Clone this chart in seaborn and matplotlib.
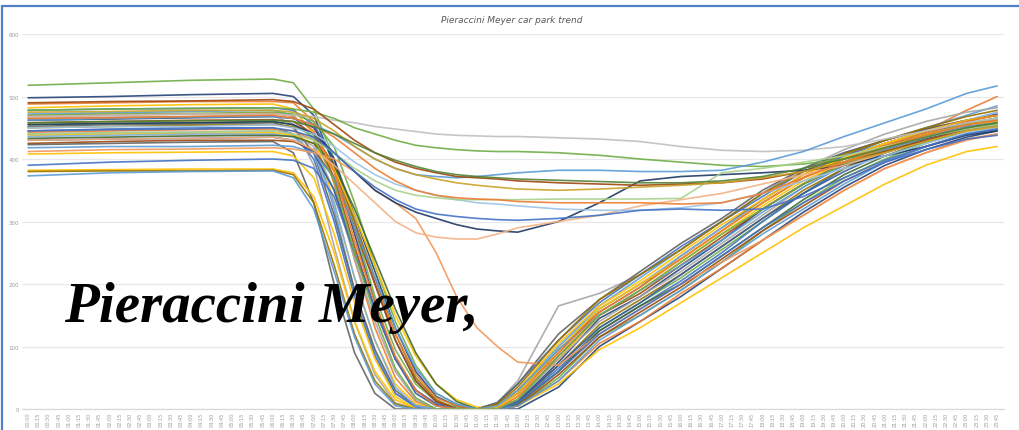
import pandas as pd
import matplotlib.pyplot as plt
import seaborn as sns
from matplotlib.lines import Line2D

# sample times (denser around the morning drop)
times = ["00:00", "02:00", "04:00", "06:00", "06:30", "07:00", "07:30", "08:00",
         "08:30", "09:00", "09:30", "10:00", "10:30", "11:00", "11:30", "12:00",
         "13:00", "14:00", "15:00", "16:00", "17:00", "18:00", "19:00", "20:00",
         "21:00", "22:00", "23:00", "23:45"]

# working days
d01 = [518, 522, 526, 528, 522, 480, 400, 290, 180, 95, 40, 12, 3, 0, 0, 8, 60, 130, 170, 210, 255, 300, 345, 385, 415, 440, 458, 465]
d02 = [498, 500, 503, 505, 500, 470, 390, 280, 170, 80, 30, 8, 0, 0, 0, 12, 75, 145, 180, 225, 270, 320, 360, 395, 420, 440, 460, 472]
d03 = [488, 490, 492, 492, 490, 460, 360, 240, 130, 50, 12, 0, 0, 0, 5, 25, 90, 160, 200, 240, 285, 330, 370, 400, 425, 445, 478, 500]
d04 = [482, 485, 487, 488, 480, 440, 330, 210, 110, 40, 8, 0, 0, 0, 3, 20, 80, 150, 190, 235, 280, 325, 365, 395, 420, 438, 455, 462]
d05 = [478, 480, 481, 482, 478, 455, 400, 300, 200, 110, 45, 12, 0, 0, 0, 10, 65, 125, 165, 205, 250, 300, 345, 385, 410, 430, 448, 455]
d06 = [472, 474, 476, 478, 470, 430, 320, 190, 90, 25, 5, 0, 0, 0, 8, 30, 100, 165, 210, 255, 300, 345, 385, 410, 430, 450, 470, 485]
d07 = [470, 472, 473, 475, 472, 460, 420, 330, 230, 140, 70, 25, 8, 0, 0, 5, 50, 115, 150, 190, 235, 285, 330, 370, 400, 425, 445, 452]
d08 = [465, 467, 468, 470, 455, 390, 260, 140, 55, 10, 0, 0, 0, 0, 10, 45, 165, 185, 215, 255, 300, 345, 385, 415, 440, 460, 475, 482]
d09 = [462, 464, 466, 468, 465, 450, 400, 310, 220, 130, 60, 20, 5, 0, 0, 0, 35, 100, 140, 180, 225, 270, 315, 355, 390, 415, 435, 445]
d10 = [458, 460, 462, 463, 460, 440, 370, 260, 160, 80, 30, 8, 0, 0, 0, 15, 85, 150, 185, 230, 275, 320, 360, 390, 415, 435, 452, 460]
d11 = [452, 455, 456, 458, 450, 410, 310, 190, 95, 30, 5, 0, 0, 0, 5, 25, 95, 155, 195, 245, 290, 335, 375, 405, 430, 448, 462, 470]
d12 = [450, 452, 454, 455, 452, 440, 390, 300, 210, 120, 50, 15, 0, 0, 0, 10, 70, 135, 175, 215, 260, 305, 350, 385, 412, 432, 450, 458]
d13 = [445, 448, 450, 450, 440, 400, 300, 180, 85, 25, 3, 0, 0, 0, 10, 40, 110, 170, 215, 260, 300, 340, 380, 405, 425, 442, 455, 462]
d14 = [443, 445, 447, 448, 445, 430, 380, 290, 200, 120, 55, 18, 5, 0, 0, 5, 45, 105, 140, 185, 225, 270, 310, 350, 385, 410, 432, 440]
d15 = [440, 442, 443, 445, 440, 420, 350, 240, 140, 60, 15, 0, 0, 0, 0, 15, 80, 140, 180, 220, 265, 310, 355, 390, 418, 438, 456, 465]
d16 = [438, 440, 441, 442, 438, 425, 385, 310, 230, 150, 85, 40, 15, 3, 0, 5, 40, 95, 130, 170, 210, 250, 290, 325, 360, 390, 412, 420]
d17 = [436, 438, 440, 440, 435, 410, 330, 210, 110, 35, 5, 0, 0, 0, 5, 30, 100, 160, 200, 245, 290, 330, 370, 400, 425, 445, 462, 475]
d18 = [433, 435, 437, 438, 436, 425, 390, 320, 240, 160, 90, 40, 12, 0, 0, 8, 60, 125, 165, 200, 245, 290, 335, 375, 405, 428, 445, 450]
d19 = [430, 432, 433, 435, 430, 410, 350, 250, 160, 80, 25, 5, 0, 0, 0, 12, 70, 130, 170, 215, 260, 305, 345, 380, 410, 432, 448, 455]
d20 = [425, 428, 430, 430, 428, 415, 370, 290, 200, 110, 45, 12, 0, 0, 0, 5, 55, 115, 155, 195, 240, 285, 325, 365, 395, 420, 440, 448]
d21 = [423, 425, 427, 428, 410, 330, 200, 90, 25, 0, 0, 0, 0, 0, 10, 40, 120, 175, 220, 265, 305, 350, 385, 410, 430, 448, 462, 470]
d22 = [418, 420, 420, 422, 420, 410, 370, 290, 210, 130, 65, 25, 8, 0, 0, 5, 45, 110, 150, 190, 235, 280, 320, 360, 395, 420, 440, 447]
d23 = [412, 415, 416, 418, 416, 410, 400, 380, 350, 330, 305, 250, 180, 130, 100, 75, 70, 120, 160, 200, 235, 270, 310, 350, 385, 410, 430, 440]
d24 = [408, 410, 411, 412, 405, 370, 280, 170, 80, 20, 0, 0, 0, 0, 5, 25, 95, 160, 200, 240, 285, 330, 370, 400, 425, 445, 462, 470]
d25 = [390, 395, 398, 400, 398, 385, 340, 250, 160, 80, 30, 8, 0, 0, 0, 10, 60, 120, 160, 200, 245, 290, 330, 365, 395, 415, 432, 438]
d26 = [382, 383, 384, 384, 378, 340, 250, 140, 60, 15, 0, 0, 0, 0, 5, 30, 105, 165, 205, 250, 295, 335, 375, 402, 425, 440, 455, 460]
d27 = [380, 381, 381, 382, 375, 330, 230, 120, 45, 8, 0, 0, 0, 0, 8, 35, 110, 175, 215, 255, 300, 345, 380, 408, 430, 450, 468, 478]
d28 = [373, 378, 380, 381, 370, 320, 220, 115, 40, 5, 0, 0, 0, 0, 5, 30, 95, 150, 190, 230, 270, 315, 355, 390, 415, 435, 452, 458]
d29 = [468, 470, 472, 473, 468, 445, 380, 270, 170, 85, 30, 5, 0, 0, 0, 20, 90, 155, 195, 240, 285, 330, 370, 400, 422, 442, 460, 470]
d30 = [455, 457, 458, 460, 455, 435, 365, 250, 150, 65, 18, 0, 0, 0, 0, 15, 85, 150, 190, 235, 280, 320, 360, 392, 418, 438, 456, 466]

# weekends / holidays
h01 = [468, 470, 472, 472, 470, 468, 462, 458, 452, 448, 444, 440, 438, 437, 436, 436, 434, 432, 428, 420, 414, 412, 414, 420, 432, 445, 458, 465]
h02 = [478, 480, 481, 482, 480, 475, 465, 450, 440, 430, 422, 418, 415, 413, 412, 412, 410, 406, 400, 395, 390, 388, 392, 400, 412, 428, 445, 452]
h03 = [455, 457, 458, 460, 455, 440, 410, 380, 350, 330, 315, 305, 295, 288, 285, 283, 300, 330, 365, 372, 375, 378, 382, 390, 405, 420, 438, 445]
h04 = [430, 432, 433, 435, 430, 415, 390, 360, 330, 300, 282, 275, 272, 272, 280, 290, 300, 310, 325, 335, 345, 360, 375, 390, 410, 430, 445, 450]
h05 = [462, 465, 467, 468, 465, 455, 440, 420, 400, 385, 375, 372, 370, 372, 375, 378, 382, 382, 380, 380, 382, 395, 412, 436, 458, 480, 505, 517]
h06 = [490, 492, 493, 495, 492, 480, 455, 430, 410, 395, 385, 378, 372, 370, 368, 365, 362, 360, 358, 360, 362, 368, 380, 395, 412, 430, 448, 455]
h07 = [450, 452, 452, 455, 450, 440, 420, 395, 375, 360, 350, 342, 335, 330, 328, 325, 320, 318, 318, 322, 330, 345, 365, 385, 405, 425, 442, 450]
h08 = [440, 442, 443, 445, 440, 430, 410, 385, 365, 350, 342, 338, 335, 335, 335, 335, 336, 336, 336, 337, 378, 385, 395, 405, 420, 435, 448, 455]
h09 = [475, 476, 478, 478, 475, 465, 445, 420, 400, 385, 375, 368, 362, 358, 355, 352, 350, 352, 355, 358, 362, 370, 380, 395, 410, 428, 445, 452]
h10 = [445, 447, 448, 450, 445, 435, 410, 380, 355, 335, 320, 312, 308, 305, 303, 302, 305, 310, 318, 320, 318, 320, 340, 370, 398, 420, 440, 448]
h11 = [465, 466, 468, 470, 465, 455, 435, 410, 385, 365, 350, 342, 338, 336, 335, 332, 330, 330, 330, 328, 330, 345, 370, 395, 418, 438, 455, 462]
h12 = [458, 460, 461, 462, 460, 452, 440, 425, 410, 398, 388, 380, 375, 372, 370, 368, 366, 364, 362, 362, 365, 372, 385, 400, 418, 435, 450, 458]

series = [d01, d02, d03, d04, d05, d06, d07, d08, d09, d10, d11, d12, d13, d14, d15,
          d16, d17, d18, d19, d20, d21, d22, d23, d24, d25, d26, d27, d28, d29, d30,
          h01, h02, h03, h04, h05, h06, h07, h08, h09, h10, h11, h12]

colors = ["#70AD47", "#264478", "#ED7D31", "#FFC000", "#4472C4", "#5B9BD5", "#70AD47", "#A5A5A5",
          "#264478", "#9E480E", "#636363", "#997300", "#4472C4", "#ED7D31", "#A5A5A5", "#FFC000",
          "#7CAFDD", "#43682B", "#335AA1", "#9E480E", "#636363", "#5B9BD5", "#F1975A", "#FFC000",
          "#4472C4", "#FFC000", "#997300", "#5B9BD5", "#ED7D31", "#70AD47",
          "#BFBFBF", "#70AD47", "#1F3864", "#F4B183", "#5B9BD5", "#9E480E", "#9DC3E6", "#A9D18E",
          "#C9A227", "#4472C4", "#ED7D31", "#548235"]

slot_labels = [f"{h:02d}:{m:02d}" for h in range(24) for m in (0, 15, 30, 45)]

rows = []
for i, vals in enumerate(series):
    for t, v in zip(times, vals):
        hh, mm = t.split(":")
        rows.append({"slot": int(hh) * 4 + int(mm) // 15, "cars": v, "day": f"day{i + 1:02d}"})
df = pd.DataFrame(rows)

sns.set_theme(style="white")
fig = plt.figure(figsize=(10.2, 4.31), dpi=100)
ax = fig.add_axes([0.0216, 0.0487, 0.963, 0.870])

sns.lineplot(data=df, x="slot", y="cars", hue="day", palette=colors, legend=False,
             linewidth=1.2, alpha=0.9, ax=ax)

ax.set_xlim(-0.6, 95.7)
ax.set_ylim(0, 600)
ax.set_yticks(range(0, 601, 100))
ax.set_xticks(range(96))
ax.set_xticklabels(slot_labels, rotation=90, fontsize=3.6, color="#9a9a9a")
ax.tick_params(axis="y", labelsize=4, labelcolor="#9a9a9a", length=0, pad=2)
ax.tick_params(axis="x", length=0, pad=2)
ax.yaxis.grid(True, color="#e8e8e8", linewidth=0.9)
ax.set_axisbelow(True)
ax.set_xlabel("")
ax.set_ylabel("")
for s in ["top", "right", "left"]:
    ax.spines[s].set_visible(False)
ax.spines["bottom"].set_color("#d9d9d9")
ax.spines["bottom"].set_linewidth(0.9)

fig.text(0.502, 0.952, "Pieraccini Meyer car park trend", ha="center", va="center",
         fontsize=6.5, style="italic", color="#595959")

# blue frame (cut off at right/bottom)
fig.add_artist(Line2D([2 / 1020, 1], [1 - 7 / 431, 1 - 7 / 431], color="#4f7fc8", linewidth=1.6))
fig.add_artist(Line2D([2 / 1020, 2 / 1020], [0, 1 - 7 / 431], color="#4f7fc8", linewidth=1.6))

fig.text(64 / 1020, 0.253, "Pieraccini Meyer,", family="Liberation Serif", weight="bold",
         style="italic", fontsize=41, color="black", va="baseline", zorder=10)

plt.savefig("out.png", dpi=100)
